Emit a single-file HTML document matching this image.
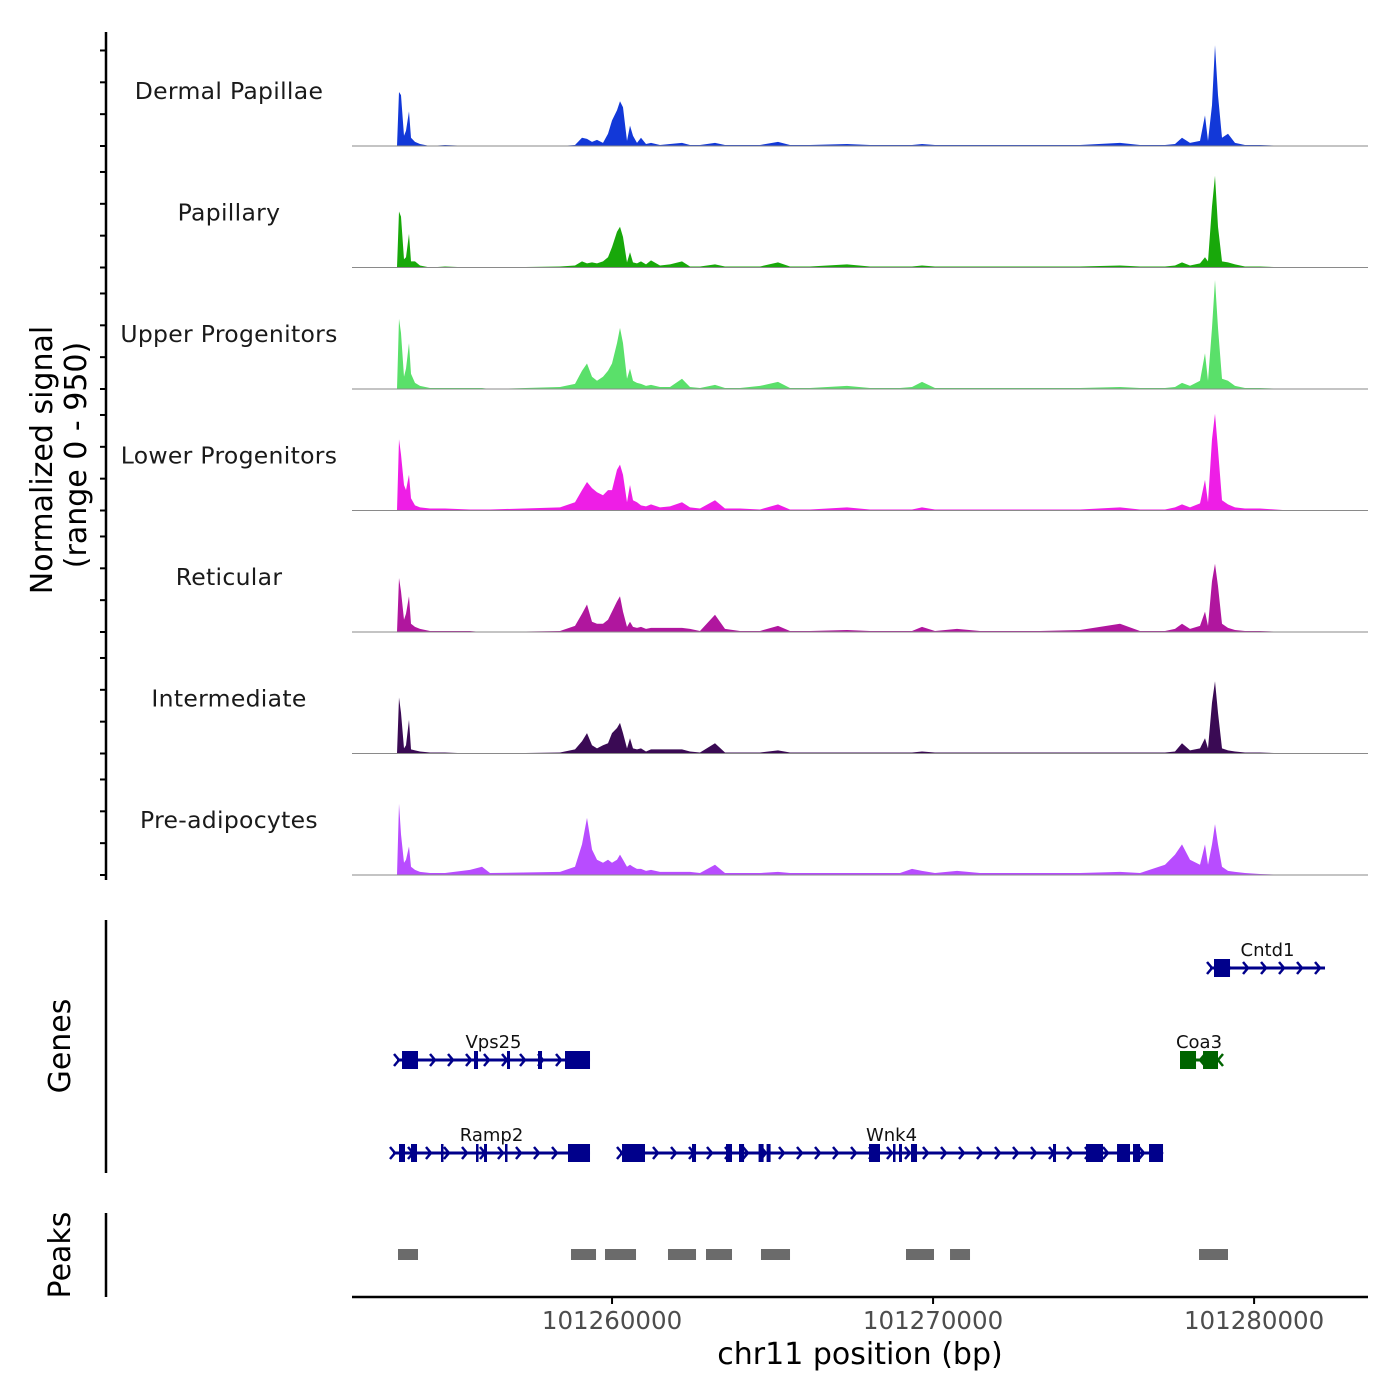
<!DOCTYPE html>
<html><head><meta charset="utf-8"><style>
html,body{margin:0;padding:0;background:#fff}
svg{display:block;font-family:"DejaVu Sans","Liberation Sans",sans-serif}
</style></head><body>
<svg id="chart" width="1400" height="1400" viewBox="0 0 1400 1400" xmlns="http://www.w3.org/2000/svg">
<rect width="1400" height="1400" fill="#fff"/>
<g id="tracks"></g>
<g id="genes"></g>
<g id="peaks"></g>
<g id="axes"></g>
</svg>
<script>
const positions=[101251900,101253302,101253364,101253426,101253520,101253582,101253676,101253738,101253862,101254018,101254330,101254797,101255576,101255950,101256199,101258379,101258846,101259065,101259220,101259376,101259532,101259719,101259874,101260000,101260155,101260248,101260342,101260466,101260560,101260653,101260778,101260902,101261058,101261214,101261494,101261806,101262180,101262429,101262740,101263208,101263519,101263986,101264609,101265170,101265544,101266167,101267320,101268036,101268970,101269344,101269656,101270060,101270746,101271462,101273331,101274577,101275823,101276446,101277225,101277536,101277755,101278004,101278315,101278471,101278564,101278689,101278782,101278876,101279000,101279187,101279405,101279717,101280184,101281118,101283548];
const trackNames=["Dermal Papillae","Papillary","Upper Progenitors","Lower Progenitors","Reticular","Intermediate","Pre-adipocytes"];
const trackColors=["#1238d8","#18a80a","#5ae06a","#ee1ee6","#b0169e","#3a0a54","#b84cff"];
const dermalValues=[0,0,424,400,80,120,272,64,32,16,0,8,0,0,0,0,8,64,56,32,48,24,96,200,280,352,304,40,160,80,24,64,16,24,8,16,24,8,8,24,8,8,8,32,8,8,16,8,8,8,16,8,8,8,8,8,24,8,8,16,64,24,40,240,40,320,792,400,64,96,24,8,8,0,0];
const papillaryValues=[0,0,440,400,64,80,264,48,48,16,0,8,0,0,0,8,16,48,32,40,32,48,80,160,280,320,240,40,120,40,32,48,24,56,16,24,48,8,8,24,8,8,8,40,8,8,24,8,8,8,16,8,8,8,8,8,16,8,8,16,40,16,32,80,48,480,720,320,48,40,24,8,8,0,0];
const upperValues=[0,0,552,440,96,160,360,120,48,24,8,8,8,8,0,16,40,144,200,96,64,96,144,200,360,480,360,80,160,64,48,40,24,32,16,16,80,16,8,32,8,8,24,56,8,8,24,8,8,16,56,8,8,8,8,8,16,8,8,16,48,24,64,280,64,480,856,480,80,64,24,8,8,0,0];
const lowerValues=[0,0,560,440,200,160,280,96,40,24,16,16,8,8,8,24,64,160,224,176,144,120,160,160,320,360,280,64,200,80,64,40,32,48,24,32,64,24,16,80,16,16,8,48,8,8,24,8,8,8,24,8,8,8,8,8,24,8,8,24,48,24,56,240,64,560,760,480,80,48,24,16,16,0,0];
const reticularValues=[0,0,424,320,96,144,280,64,40,24,8,8,8,0,0,8,48,144,216,80,64,64,96,160,240,280,160,40,80,40,32,40,24,32,32,32,32,24,8,136,24,8,8,48,8,8,16,8,8,8,40,8,24,8,8,16,64,8,8,24,64,24,48,160,48,400,536,360,64,32,16,8,8,0,0];
const intermediateValues=[0,0,440,320,40,64,264,32,24,16,8,8,0,0,0,8,32,96,160,64,40,64,80,160,200,240,160,40,120,40,32,40,16,32,32,32,32,16,8,80,8,8,8,24,8,8,8,8,8,8,16,8,8,8,8,8,8,8,8,16,80,24,40,120,40,400,568,320,40,24,16,8,8,0,0];
const preadipoValues=[0,0,560,320,96,120,224,64,40,24,16,16,40,64,16,24,64,240,448,200,120,96,120,96,120,160,120,64,80,64,48,48,32,40,24,24,24,24,16,80,16,16,16,24,16,16,16,16,16,48,32,16,32,16,16,16,24,16,80,160,240,120,80,240,80,240,400,240,64,32,24,16,8,0,0];
const yMax=950;
const xTicks=[101260000,101270000,101280000];
const geneNames=["Cntd1","Vps25","Coa3","Ramp2","Wnk4"];
const geneStarts=[101278627,101253302,101277692,101253177,101260248];
const geneEnds=[101282209,101259314,101278876,101259314,101277163];
const geneStrands=["+","+","-","+","+"];
const geneRows=[0,1,1,2,2];
const geneExons=[
 [[101278751,101279250]],
 [[101253458,101253956],[101255700,101255825],[101256728,101256822],[101257694,101257819],[101258535,101259314]],
 [[101277692,101278191],[101278409,101278876]],
 [[101253364,101253551],[101253738,101253925],[101254672,101254735],[101255763,101255825],[101256012,101256105],[101256666,101256728],[101258628,101259314]],
 [[101260311,101261027],[101262491,101262616],[101263550,101263737],[101263955,101264112],[101264565,101264721],[101264814,101264939],[101268005,101268347],[101268752,101268815],[101268939,101269032],[101269313,101269500],[101273736,101273830],[101274764,101275293],[101275730,101276135],[101276228,101276446],[101276727,101277163]]
];
const peakStarts=[101253333,101258722,101259781,101261743,101262927,101264640,101269157,101270528,101278284];
const peakEnds=[101253956,101259501,101260747,101262616,101263737,101265544,101270029,101271151,101279187];

const NS="http://www.w3.org/2000/svg";
const X0=352,X1=1368,D0=101251900,D1=101283548;
function xs(bp){return X0+(bp-D0)/(D1-D0)*(X1-X0);}
const trackH=121.5,firstBase=146;
function baseY(i){return firstBase+i*trackH;}
function ys(i,v){return baseY(i)-v/yMax*121;}
function mk(tag,attrs,parent){const e=document.createElementNS(NS,tag);for(const k in attrs)e.setAttribute(k,attrs[k]);parent.appendChild(e);return e;}

const allValues=[dermalValues,papillaryValues,upperValues,lowerValues,reticularValues,intermediateValues,preadipoValues];
const T=document.getElementById('tracks');
const slug=["dermal-papillae","papillary","upper-progenitors","lower-progenitors","reticular","intermediate","pre-adipocytes"];
allValues.forEach((vals,i)=>{
  let d="M"+xs(positions[0])+","+baseY(i);
  vals.forEach((v,j)=>{d+="L"+xs(positions[j]).toFixed(1)+","+ys(i,v).toFixed(1);});
  d+="L"+xs(positions[positions.length-1])+","+baseY(i)+"Z";
  const p=mk('path',{d:d,fill:trackColors[i]},T);
  
  
  const bl=mk('line',{x1:X0,x2:X1,y1:baseY(i),y2:baseY(i),stroke:'#8a8a8a','stroke-width':1},T);
  
  
  const lb=mk('text',{x:229,y:baseY(i)-47,'text-anchor':'middle','font-size':23.5,fill:'#1a1a1a','letter-spacing':'0.3'},T);
  lb.textContent=trackNames[i];
  
  
});

const G=document.getElementById('genes');
const rowY=[968,1060,1153];
geneNames.forEach((n,i)=>{
  const col=geneStrands[i]==="+"?"#00008b":"#006400";
  const g=mk('g',{},G);
  
  
  const y=rowY[geneRows[i]];
  const a=xs(geneStarts[i]),b=xs(geneEnds[i]);
  mk('line',{x1:a,x2:b,y1:y,y2:y,stroke:col,'stroke-width':3},g);
  const dir=geneStrands[i]==="+"?1:-1;
  for(let x=a+2;x<=b+0.5;x+=18){
    mk('polyline',{points:(x-5*dir)+","+(y-6)+" "+x+","+y+" "+(x-5*dir)+","+(y+6),fill:'none',stroke:col,'stroke-width':2.5},g);
  }
  geneExons[i].forEach(e=>{
    const ea=xs(e[0]),eb=xs(e[1]);
    mk('rect',{x:ea,y:y-9,width:Math.max(2.5,eb-ea),height:18,fill:col},g);
  });
  const t=mk('text',{x:(a+b)/2,y:y-12,'text-anchor':'middle','font-size':18,fill:'#111'},g);
  t.textContent=n;
});

const P=document.getElementById('peaks');
peakStarts.forEach((s,i)=>{
  const r=mk('rect',{x:xs(s),y:1249,width:xs(peakEnds[i])-xs(s),height:11,fill:'#6b6b6b'},P);
  
  
});

const A=document.getElementById('axes');
mk('line',{x1:106,x2:106,y1:32,y2:880,stroke:'#000','stroke-width':2.5},A);
for(let i=0;i<7;i++){[0,250,500,750].forEach(v=>{const y=ys(i,v);mk('line',{x1:100,x2:106,y1:y,y2:y,stroke:'#000','stroke-width':2},A);});}
mk('line',{x1:106,x2:106,y1:920,y2:1173,stroke:'#000','stroke-width':2.5},A);
mk('line',{x1:106,x2:106,y1:1213,y2:1297,stroke:'#000','stroke-width':2.5},A);
mk('line',{x1:X0,x2:X1,y1:1297,y2:1297,stroke:'#000','stroke-width':2.5},A);
xTicks.forEach(t=>{
  const x=xs(t);
  mk('line',{x1:x,x2:x,y1:1297,y2:1304,stroke:'#000','stroke-width':2},A);
  const tx=mk('text',{x:x,y:1329,'text-anchor':'middle','font-size':24.5,fill:'#4d4d4d'},A);
  tx.textContent=String(t);
  
  
});
const xt=mk('text',{x:860,y:1364,'text-anchor':'middle','font-size':30,fill:'#000'},A);
xt.textContent="chr11 position (bp)";


const yt=mk('text',{transform:'translate(52,460) rotate(-90)','text-anchor':'middle','font-size':30,fill:'#000'},A);
yt.textContent="Normalized signal";


const yt2=mk('text',{transform:'translate(86,455) rotate(-90)','text-anchor':'middle','font-size':30,fill:'#000'},A);
yt2.textContent="(range 0 - 950)";


const gt=mk('text',{transform:'translate(70,1046) rotate(-90)','text-anchor':'middle','font-size':30,fill:'#000'},A);
gt.textContent="Genes";


const pt=mk('text',{transform:'translate(70,1255) rotate(-90)','text-anchor':'middle','font-size':30,fill:'#000'},A);
pt.textContent="Peaks";


</script>
</body></html>
